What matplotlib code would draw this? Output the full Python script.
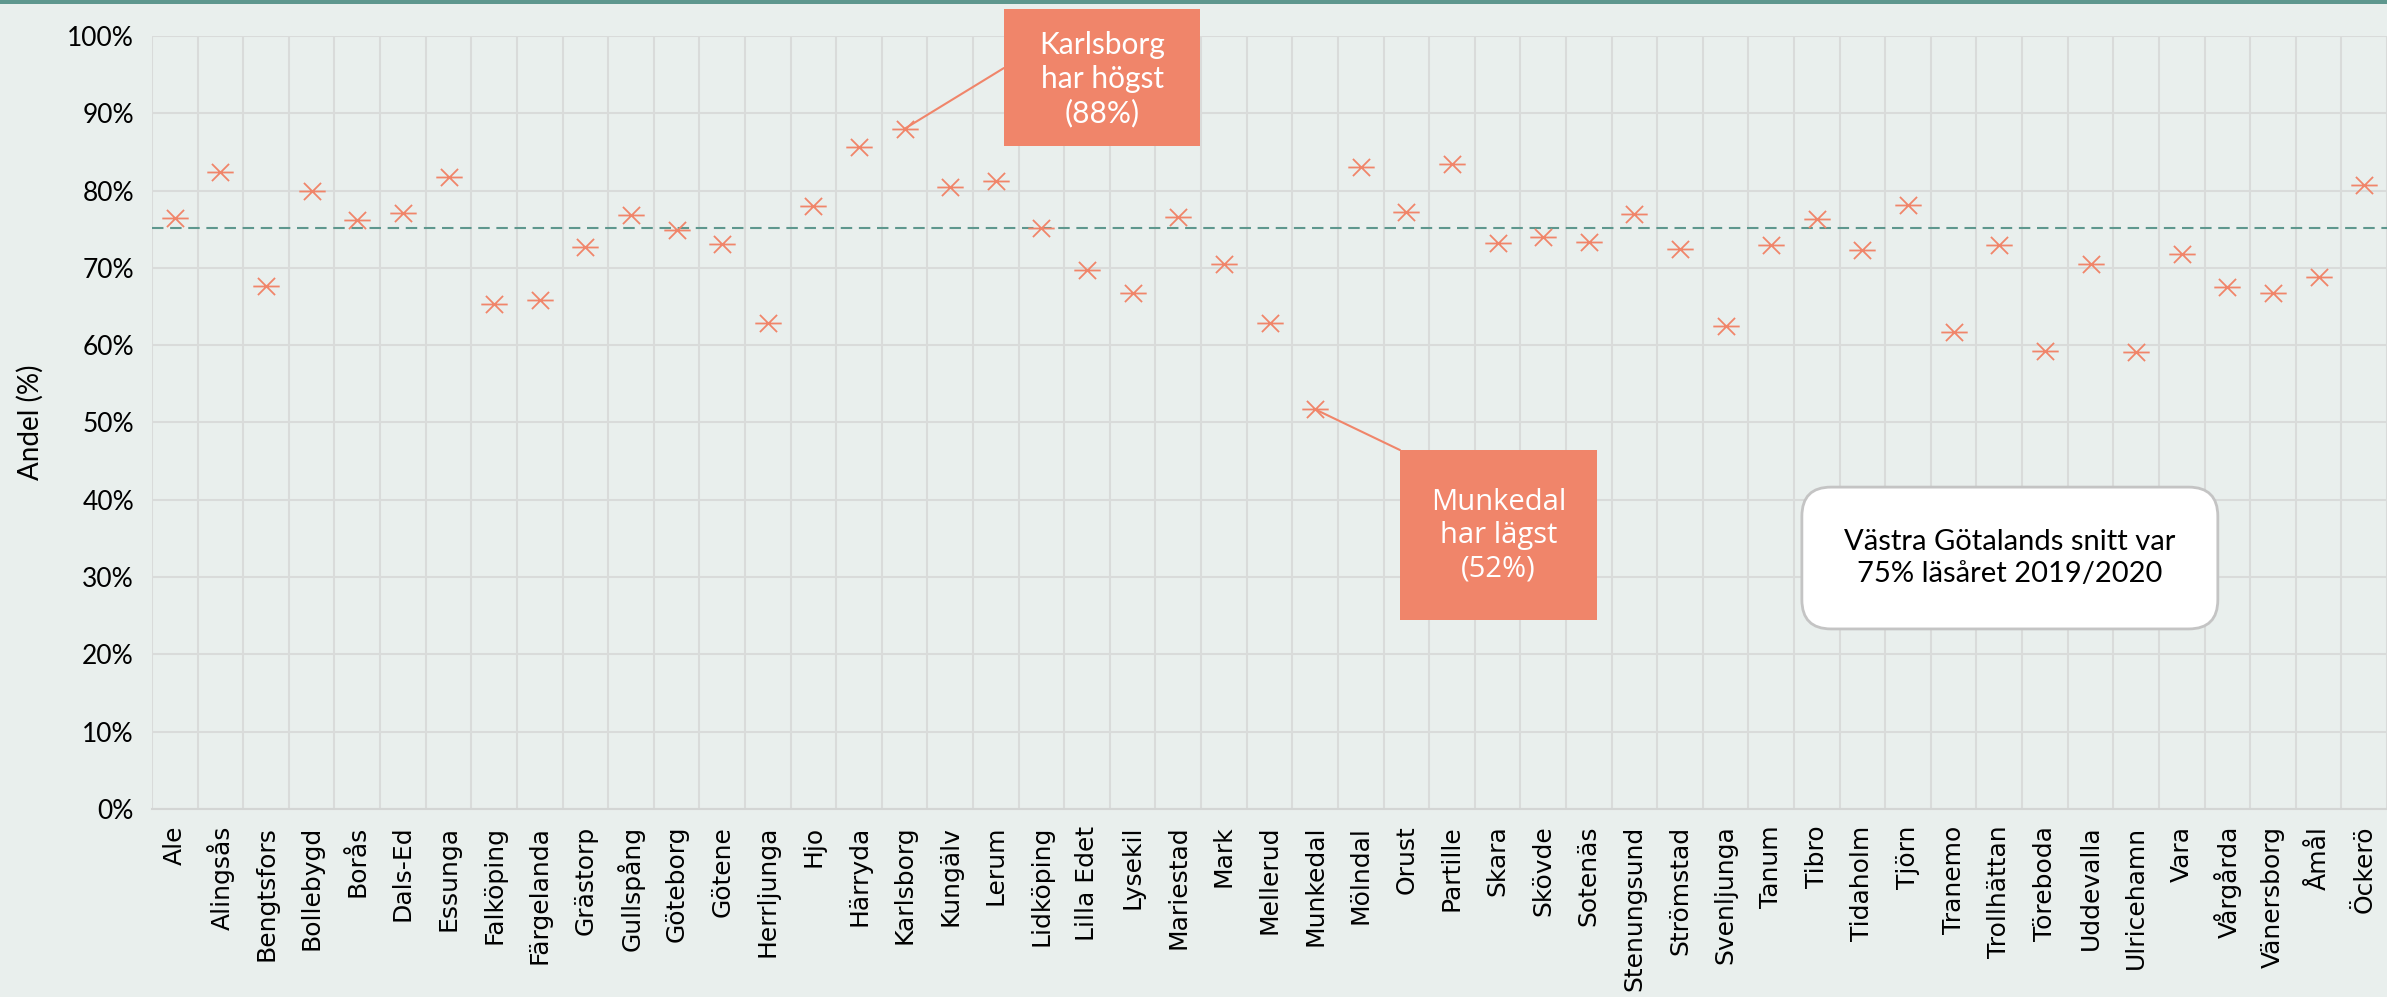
import numpy as np
import matplotlib.pyplot as plt
from matplotlib.path import Path
from matplotlib.patches import Rectangle

# andel per kommun, läsåret 2019/2020
kommuner = ['Ale', 'Alingsås', 'Bengtsfors', 'Bollebygd', 'Borås', 'Dals-Ed',
            'Essunga', 'Falköping', 'Färgelanda', 'Grästorp', 'Gullspång',
            'Göteborg', 'Götene', 'Herrljunga', 'Hjo', 'Härryda', 'Karlsborg',
            'Kungälv', 'Lerum', 'Lidköping', 'Lilla Edet', 'Lysekil',
            'Mariestad', 'Mark', 'Mellerud', 'Munkedal', 'Mölndal', 'Orust',
            'Partille', 'Skara', 'Skövde', 'Sotenäs', 'Stenungsund',
            'Strömstad', 'Svenljunga', 'Tanum', 'Tibro', 'Tidaholm', 'Tjörn',
            'Tranemo', 'Trollhättan', 'Töreboda', 'Uddevalla', 'Ulricehamn',
            'Vara', 'Vårgårda', 'Vänersborg', 'Åmål', 'Öckerö']
andel = [76.4, 82.4, 67.6, 79.9, 76.2, 77.1,
         81.7, 65.3, 65.8, 72.7, 76.8,
         74.9, 73.1, 62.9, 78.0, 85.6, 88.0,
         80.4, 81.2, 75.1, 69.7, 66.7,
         76.6, 70.5, 62.9, 51.7, 83.0, 77.2,
         83.4, 73.2, 74.0, 73.4, 77.0,
         72.4, 62.5, 73.0, 76.3, 72.3, 78.2,
         61.7, 72.9, 59.3, 70.5, 59.1,
         71.8, 67.5, 66.8, 68.8, 80.7]
snitt = 75.1
yticks = list(range(0, 101, 10))

bg = '#E9EFED'
salmon = '#F0856A'
teal = '#5E978E'
grid = '#D9DBDA'

# excel-liknande stjärnmarkör: X plus vågrät linje
star = Path([(-1, 0), (1, 0), (-0.65, -0.65), (0.65, 0.65), (-0.65, 0.65), (0.65, -0.65)],
            [Path.MOVETO, Path.LINETO, Path.MOVETO, Path.LINETO, Path.MOVETO, Path.LINETO])

fig = plt.figure(figsize=(23.87, 9.97), dpi=100, facecolor=bg)
ax = fig.add_axes([0.0637, 0.1886, 0.9363, 0.7753])
ax.set_facecolor(bg)

x = np.arange(len(kommuner))
ax.plot(x, andel, linestyle='none', marker=star, markersize=19,
        markeredgewidth=1.3, color=salmon, zorder=4)
ax.axhline(snitt, color=teal, lw=1.5, ls=(0, (5.5, 3.2)), zorder=3)

ax.set_xlim(-0.5, len(kommuner) - 0.5)
ax.set_ylim(0, 100)
ax.set_yticks(yticks)
ax.set_yticklabels([f'{v}%' for v in yticks], fontsize=19, family='Lato')
ax.set_xticks(x)
ax.set_xticklabels(kommuner, rotation=90, fontsize=18, family='DejaVu Sans')
ax.set_xticks(np.arange(-0.5, len(kommuner), 1), minor=True)
ax.tick_params(which='both', length=0)
ax.tick_params(axis='y', pad=13)
ax.tick_params(axis='x', pad=12)
ax.grid(True, axis='y', color=grid, lw=1.5)
ax.grid(True, axis='x', which='minor', color=grid, lw=1.5)
ax.grid(False, axis='x', which='major')
ax.set_axisbelow(True)
for s in ['top', 'right', 'left']:
    ax.spines[s].set_visible(False)
ax.spines['bottom'].set_color('#D3D5D4')
ax.spines['bottom'].set_linewidth(1.5)

ax.text(-0.0546, 0.5, 'Andel (%)', transform=ax.transAxes, rotation=90,
        ha='center', va='center', fontsize=20, family='Lato')

# teal list överst
fig.add_artist(Rectangle((0, 1 - 4 / 997), 1, 4 / 997, transform=fig.transFigure,
                         color=teal, lw=0))

# Karlsborg (högst)
fig.add_artist(Rectangle((0.4206, 0.8536), 0.0821, 0.1374, transform=fig.transFigure,
                         color=salmon, lw=0, zorder=5))
ax.annotate('', xy=(16, andel[16]), xycoords='data',
            xytext=(0.4206, 0.9318), textcoords='figure fraction',
            arrowprops=dict(arrowstyle='-', color=salmon, lw=1.5,
                            shrinkA=0, shrinkB=0))
fig.text(0.4617, 0.9208, 'Karlsborg\nhar högst\n(88%)', color='white',
         ha='center', va='center', fontsize=21.5, family='Lato',
         linespacing=1.25, zorder=6)

# Munkedal (lägst)
fig.add_artist(Rectangle((0.5865, 0.3781), 0.0825, 0.1705, transform=fig.transFigure,
                         color=salmon, lw=0, zorder=5))
ax.annotate('', xy=(25, andel[25]), xycoords='data',
            xytext=(0.5865, 0.5486), textcoords='figure fraction',
            arrowprops=dict(arrowstyle='-', color=salmon, lw=1.5,
                            shrinkA=0, shrinkB=0))
fig.text(0.6277, 0.4624, 'Munkedal\nhar lägst\n(52%)', color='white',
         ha='center', va='center', fontsize=21, family='Open Sans',
         linespacing=1.2, zorder=6)

# snittruta
fig.text(0.8420, 0.4403, 'Västra Götalands snitt var\n75% läsåret 2019/2020',
         ha='center', va='center', fontsize=21, family='Lato', color='black',
         linespacing=1.25, zorder=6,
         bbox=dict(boxstyle='round,pad=1.45,rounding_size=1.0',
                   facecolor='white', edgecolor='#C4C4C4', lw=2))

fig.savefig('out.png', dpi=100, facecolor=bg)
